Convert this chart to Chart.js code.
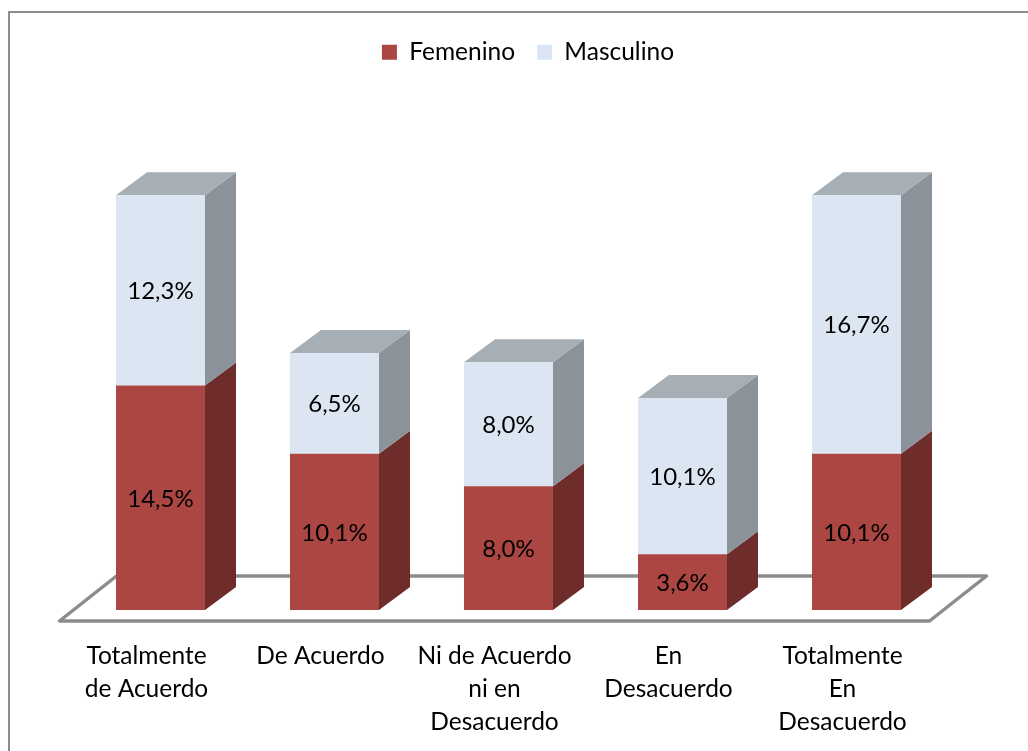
<!DOCTYPE html>
<html>
<head>
<meta charset="utf-8">
<title>Chart</title>
<script src="https://cdn.jsdelivr.net/npm/chart.js@4"></script>
<style>
  html, body { margin: 0; padding: 0; background: #fff; }
  canvas { display: block; }
</style>
</head>
<body>
<canvas id="chart" width="1028" height="751"></canvas>
<script>
const categories = [
    ['Totalmente', 'de Acuerdo'],
    ['De Acuerdo'],
    ['Ni de Acuerdo', 'ni en', 'Desacuerdo'],
    ['En', 'Desacuerdo'],
    ['Totalmente', 'En', 'Desacuerdo']
];
const femenino = [14.5, 10.1, 8.0, 3.6, 10.1];
const masculino = [12.3, 6.5, 8.0, 10.1, 16.7];

const fontName = 'Lato';
const depthX = 31;
const depthY = 23;

function poly(ctx, points, fill) {
    ctx.beginPath();
    ctx.moveTo(points[0][0], points[0][1]);
    for (let i = 1; i < points.length; i++) ctx.lineTo(points[i][0], points[i][1]);
    ctx.closePath();
    ctx.fillStyle = fill;
    ctx.fill();
}

// outer frame, only left and top show in the picture
const framePlugin = {
    id: 'frame',
    beforeDraw(chart) {
        const ctx = chart.ctx;
        ctx.save();
        ctx.fillStyle = '#fff';
        ctx.fillRect(0, 0, chart.width, chart.height);
        ctx.strokeStyle = '#8c8c8c';
        ctx.lineWidth = 2;
        ctx.beginPath();
        ctx.moveTo(9, chart.height);
        ctx.lineTo(9, 12);
        ctx.lineTo(chart.width, 12);
        ctx.stroke();
        ctx.restore();
    }
};

// floor and the side/top faces of the columns
const depthPlugin = {
    id: 'depth',
    beforeDatasetsDraw(chart) {
        const ctx = chart.ctx;
        const area = chart.chartArea;
        const base = chart.scales.y.getPixelForValue(0);
        ctx.save();
        ctx.strokeStyle = '#8c8c8c';
        ctx.lineWidth = 3.5;
        ctx.lineJoin = 'round';
        ctx.beginPath();
        ctx.moveTo(area.left - 14, base + 11);
        ctx.lineTo(area.right - 14, base + 11);
        ctx.lineTo(area.right + 43, base - 34);
        ctx.lineTo(area.left + 43, base - 34);
        ctx.closePath();
        ctx.stroke();

        const sideColors = ['#6e2c2a', '#8c9299'];
        chart.data.datasets.forEach((ds, d) => {
            chart.getDatasetMeta(d).data.forEach((bar) => {
                const p = bar.getProps(['x', 'y', 'base', 'width'], true);
                const r = p.x + p.width / 2;
                const l = p.x - p.width / 2;
                poly(ctx, [[r, p.y], [r + depthX, p.y - depthY], [r + depthX, p.base - depthY], [r, p.base]], sideColors[d]);
                if (d === chart.data.datasets.length - 1) {
                    poly(ctx, [[l, p.y], [l + depthX, p.y - depthY], [r + depthX, p.y - depthY], [r, p.y]], '#a6afb6');
                }
            });
        });
        ctx.restore();
    },
    afterDatasetsDraw(chart) {
        const ctx = chart.ctx;
        ctx.save();
        ctx.fillStyle = '#000';
        ctx.font = '24px ' + fontName;
        ctx.textAlign = 'center';
        ctx.textBaseline = 'middle';
        chart.data.datasets.forEach((ds, d) => {
            chart.getDatasetMeta(d).data.forEach((bar, i) => {
                const p = bar.getProps(['x', 'y', 'base'], true);
                const txt = ds.data[i].toFixed(1).replace('.', ',') + '%';
                ctx.fillText(txt, p.x, (p.y + p.base) / 2 + 1);
            });
        });
        ctx.restore();
    }
};

new Chart(document.getElementById('chart').getContext('2d'), {
    type: 'bar',
    data: {
        labels: categories,
        datasets: [
            { label: 'Femenino', data: femenino, backgroundColor: '#ab4642', categoryPercentage: 0.5115, barPercentage: 1 },
            { label: 'Masculino', data: masculino, backgroundColor: '#dce6f2', categoryPercentage: 0.5115, barPercentage: 1 }
        ]
    },
    plugins: [framePlugin, depthPlugin],
    options: {
        responsive: false,
        animation: false,
        layout: { padding: { left: 73.5, right: 45.5, top: 18, bottom: 0 } },
        plugins: {
            tooltip: { enabled: false },
            legend: {
                position: 'top',
                labels: {
                    boxWidth: 15,
                    boxHeight: 15,
                    padding: 22,
                    color: '#000',
                    font: { family: fontName, size: 24.5 }
                }
            }
        },
        scales: {
            x: {
                stacked: true,
                grid: { display: false, drawTicks: false },
                border: { display: false },
                ticks: {
                    color: '#000',
                    padding: 30,
                    labelOffset: -14,
                    maxRotation: 0,
                    autoSkip: false,
                    font: { family: fontName, size: 24.5, lineHeight: 33 / 24.5 }
                },
                afterFit(scale) { scale.height = 141; }
            },
            y: {
                stacked: true,
                position: 'right',
                min: 0,
                max: 34.6,
                grid: { display: false },
                border: { display: false },
                ticks: { display: false },
                afterFit(scale) { scale.width = 39; }
            }
        }
    }
});
</script>
</body>
</html>
